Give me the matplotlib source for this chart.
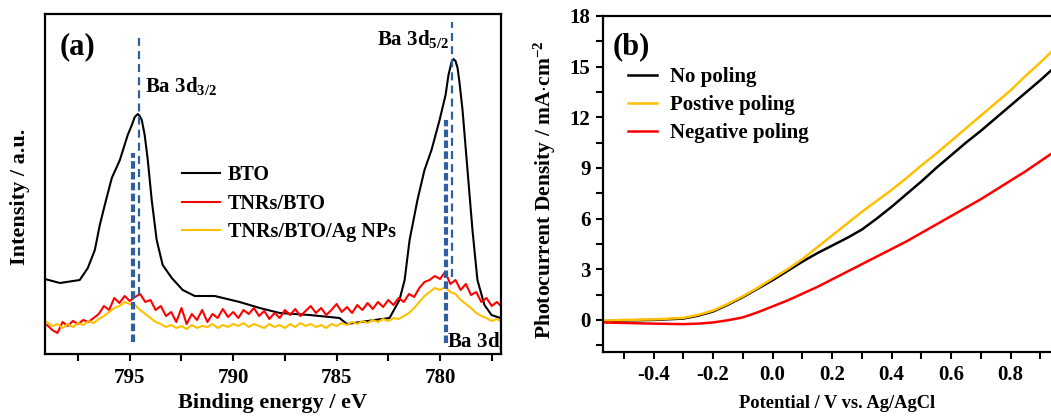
import numpy as np
import matplotlib
matplotlib.use("Agg")
import matplotlib.pyplot as plt
from matplotlib.ticker import MultipleLocator, FormatStrFormatter

plt.rcParams['font.family'] = ['Liberation Serif', 'DejaVu Serif']
plt.rcParams['font.weight'] = 'bold'
plt.rcParams['mathtext.fontset'] = 'custom'
plt.rcParams['mathtext.rm'] = 'Liberation Serif:bold'
plt.rcParams['mathtext.bf'] = 'Liberation Serif:bold'
plt.rcParams['mathtext.it'] = 'Liberation Serif:bold'
plt.rcParams['mathtext.default'] = 'rm'

# ---- panel (a): XPS Ba 3d ----
# BTO (binding energy / eV, intensity a.u.)
bto_energy = [799.11, 798.38, 797.42, 797.03, 796.69, 796.45, 796.21, 795.87, 795.48,
              795.10, 794.90, 794.76, 794.61, 794.52, 794.42, 794.28, 794.13, 793.94,
              793.70, 793.41, 792.97, 792.44, 791.86, 790.89, 789.69, 788.72, 787.75,
              786.30, 784.86, 784.50, 783.16, 782.44, 781.96, 781.71, 781.47, 781.09,
              780.75, 780.41, 780.02, 779.73, 779.59, 779.44, 779.35, 779.25, 779.15,
              779.06, 778.91, 778.67, 778.43, 778.19, 777.85, 777.51, 777.08]
bto_int = [75, 71, 74, 86, 104, 129, 149, 176, 194,
           219, 229, 237, 240, 238, 234, 219, 194, 154,
           114, 89, 76, 64, 58, 58, 52, 46, 41,
           39, 36, 30, 34, 36, 54, 74, 114, 154,
           184, 204, 234, 259, 279, 292, 295, 293, 286,
           272, 244, 184, 124, 74, 49, 39, 36]

# TNRs/BTO and TNRs/BTO/Ag NPs on a 0.25 eV step
step_energy = np.arange(799.0, 776.9, -0.25)
tnr_int = [29, 24, 21, 32, 28, 33, 30, 34,
           32, 36, 40, 48, 44, 56, 51, 58,
           53, 57, 60, 52, 54, 44, 48, 38,
           42, 32, 46, 30, 40, 34, 44, 32,
           40, 36, 45, 37, 42, 36, 44, 40,
           46, 38, 43, 35, 41, 36, 44, 39,
           45, 38, 43, 48, 41, 46, 39, 44,
           50, 42, 47, 41, 49, 44, 51, 45,
           52, 47, 54, 49, 56, 52, 60, 57,
           66, 72, 74, 78, 75, 82, 70, 74,
           64, 70, 59, 62, 52, 56, 48, 52,
           47]
ag_int = [32, 28, 30, 26, 30, 27, 31, 29,
          33, 31, 35, 38, 42, 46, 48, 52,
          50, 49, 44, 40, 36, 32, 30, 27,
          29, 26, 28, 25, 29, 26, 28, 27,
          30, 26, 29, 27, 30, 28, 31, 27,
          30, 28, 26, 30, 27, 29, 26, 30,
          27, 31, 28, 30, 27, 29, 26, 30,
          28, 31, 29, 32, 30, 33, 31, 34,
          32, 35, 33, 36, 35, 38, 41, 46,
          52, 58, 62, 66, 64, 67, 62, 60,
          54, 50, 46, 41, 38, 36, 33, 35,
          32]

# peak marker lines: position, lower end, upper end
thin_pos = [794.57, 779.40]
thin_lo = [59, 77]
thin_hi = [317, 332]
thick_pos = [794.85, 779.69]
thick_lo = [12, 11]
thick_hi = [201, 234]

# ---- panel (b): LSV ----
potential = [-0.57, -0.5, -0.4, -0.3, -0.25, -0.2, -0.15, -0.1, -0.05, 0.0,
             0.05, 0.1, 0.15, 0.2, 0.25, 0.3, 0.35, 0.4, 0.45, 0.5,
             0.55, 0.6, 0.65, 0.7, 0.75, 0.8, 0.85, 0.9, 0.95]
no_poling = [-0.08, -0.03, 0.0, 0.08, 0.25, 0.5, 0.9, 1.35, 1.85, 2.35,
             2.9, 3.45, 3.95, 4.4, 4.85, 5.35, 6.0, 6.7, 7.45, 8.2,
             9.0, 9.75, 10.5, 11.2, 11.95, 12.7, 13.45, 14.2, 15.0]
pos_poling = [-0.05, 0.0, 0.03, 0.12, 0.3, 0.55, 0.95, 1.4, 1.9, 2.45,
              3.0, 3.6, 4.3, 5.0, 5.7, 6.4, 7.05, 7.7, 8.4, 9.15,
              9.85, 10.6, 11.35, 12.1, 12.85, 13.6, 14.45, 15.25, 16.1]
neg_poling = [-0.15, -0.18, -0.22, -0.25, -0.22, -0.15, -0.02, 0.15, 0.45, 0.8,
              1.15, 1.55, 1.95, 2.4, 2.85, 3.3, 3.75, 4.2, 4.65, 5.15,
              5.65, 6.15, 6.65, 7.15, 7.7, 8.25, 8.8, 9.4, 10.0]

gold = '#FFC000'
blue = '#2F5F9F'

fig = plt.figure(figsize=(10.51, 4.16), dpi=100)

ax1 = fig.add_axes([45/1051, 62/416, 456/1051, 340/416])
ax1.plot(bto_energy, bto_int, color='black', lw=1.5, label='BTO')
ax1.plot(step_energy, tnr_int, color='red', lw=1.5, label='TNRs/BTO')
ax1.plot(step_energy, ag_int, color=gold, lw=1.5, label='TNRs/BTO/Ag NPs')
ax1.vlines(thick_pos, thick_lo, thick_hi, colors=blue, lw=3, linestyles=(0, (1.8, 0.8)))
ax1.vlines(thin_pos, thin_lo, thin_hi, colors=blue, lw=1.6, linestyles=(0, (3.6, 2.3)))
ax1.set_xlim(799.1, 777.05)
ax1.set_ylim(0, 340)
ax1.xaxis.set_major_locator(MultipleLocator(5))
ax1.xaxis.set_minor_locator(MultipleLocator(2.5))
ax1.set_yticks([])
ax1.tick_params(axis='x', which='major', direction='out', length=5, width=1.5, labelsize=15, pad=5)
ax1.tick_params(axis='x', which='minor', direction='out', length=5, width=1.5)
for s in ax1.spines.values():
    s.set_linewidth(1.6)
ax1.text(0.033, 0.903, '(a)', transform=ax1.transAxes, fontsize=22, ha='left', va='center')
ax1.text(794.28, 262, r'Ba 3d$_{3/2}$', fontsize=15, ha='left', va='baseline')
ax1.text(783.07, 309, r'Ba 3d$_{5/2}$', fontsize=15, ha='left', va='baseline')
ax1.text(779.64, 7, r'Ba 3d$_{5/2}$', fontsize=15, ha='left', va='baseline', clip_on=True)
ax1.legend(loc='upper left', bbox_to_anchor=(0.30, 0.555), frameon=False, fontsize=14.5,
           handlelength=1.9, handletextpad=0.4, labelspacing=0.42, borderpad=0, borderaxespad=0)
fig.text(273/1051, 1 - 403/416, 'Binding energy / eV', fontsize=16, ha='center', va='center')
fig.text(20/1051, 1 - 197/416, 'Intensity / a.u.', fontsize=16, rotation=90, ha='center', va='center')

ax2 = fig.add_axes([603/1051, 64/416, 457/1051, 336/416])
ax2.plot(potential, no_poling, color='black', lw=1.8, label='No poling')
ax2.plot(potential, pos_poling, color=gold, lw=1.8, label='Postive poling')
ax2.plot(potential, neg_poling, color='red', lw=1.8, label='Negative poling')
ax2.set_xlim(-0.57, 0.966)
ax2.set_ylim(-1.9, 18)
ax2.xaxis.set_major_locator(MultipleLocator(0.2))
ax2.xaxis.set_minor_locator(MultipleLocator(0.1))
ax2.yaxis.set_major_locator(MultipleLocator(3))
ax2.yaxis.set_minor_locator(MultipleLocator(1.5))
ax2.xaxis.set_major_formatter(FormatStrFormatter('%.1f'))
ax2.tick_params(which='major', direction='out', length=5, width=1.5, labelsize=15, pad=4)
ax2.tick_params(which='minor', direction='out', length=5, width=1.5)
for s in ax2.spines.values():
    s.set_linewidth(1.6)
ax2.text(0.02, 0.908, '(b)', transform=ax2.transAxes, fontsize=22, ha='left', va='center')
ax2.legend(loc='upper left', bbox_to_anchor=(0.055, 0.848), frameon=False, fontsize=15,
           handlelength=1.4, handletextpad=0.6, labelspacing=0.38, borderpad=0, borderaxespad=0)
fig.text(837/1051, 1 - 403/416, 'Potential / V vs. Ag/AgCl', fontsize=13.3, ha='center', va='center')
fig.text(545/1051, 1 - 190/416, r'Photocurrent Density / mA$\cdot$cm$^{-2}$', fontsize=15.5,
         rotation=90, ha='center', va='center')

fig.savefig('out.png', dpi=100)
